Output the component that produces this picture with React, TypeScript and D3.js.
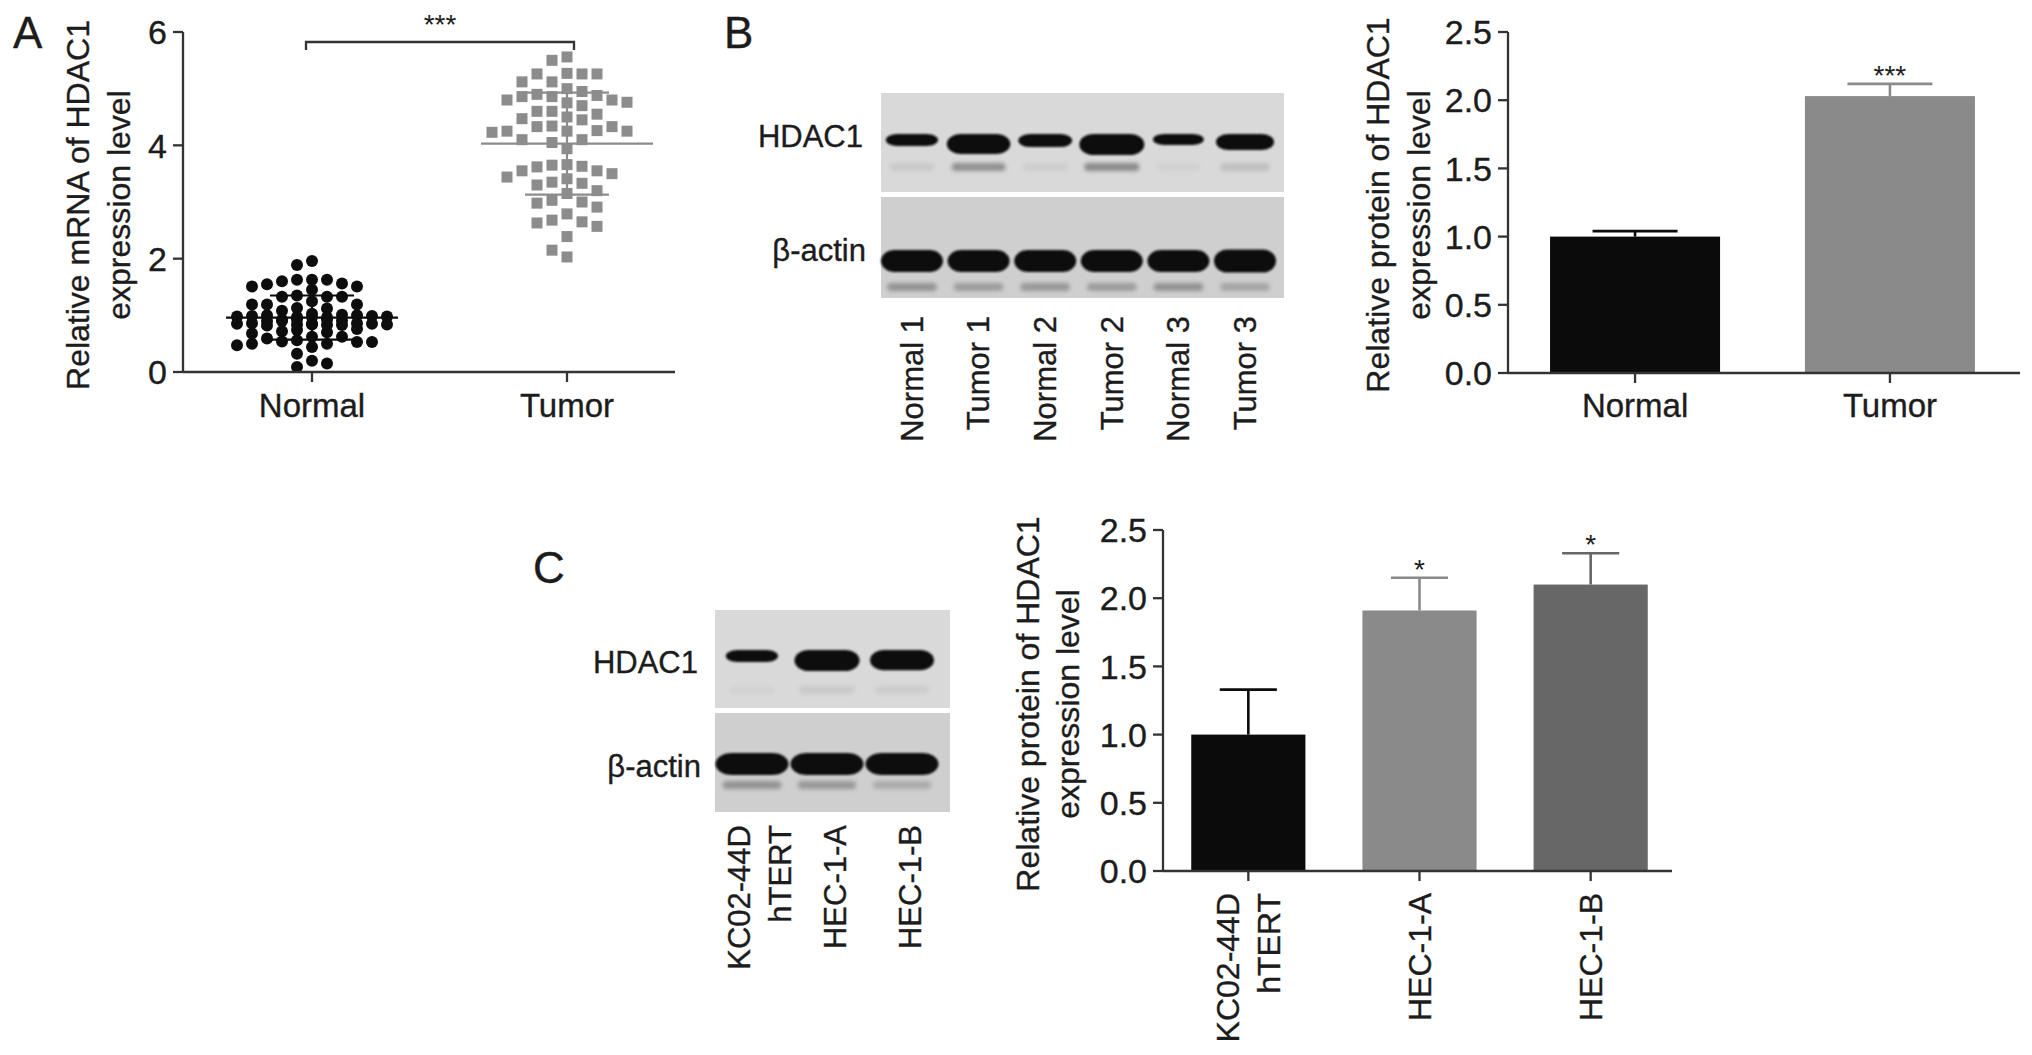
import React, { useRef, useEffect } from "react";
import * as d3 from "d3";

const W = 2032;
const H = 1055;
const FONT = "'Liberation Sans', Arial, Helvetica, sans-serif";
const INK = "#1c1c1c";
const AXIS = "#333";

// ---------- panel A: relative mRNA (scatter, mean +/- SD) ----------
const groupsA = ["Normal", "Tumor"];
const normalMrna = [
  1.96, 1.89,
  1.63, 1.63, 1.63, 1.6, 1.56, 1.55, 1.51, 1.51, 1.45,
  1.35, 1.33, 1.33, 1.33,
  1.25, 1.19, 1.19, 1.19,
  1.13, 1.12, 1.08, 1.03,
  1.01, 1.0, 1.0, 0.99, 0.99, 0.98, 0.98, 0.97, 0.97, 0.96,
  0.93, 0.92, 0.92, 0.91, 0.9, 0.9,
  0.86, 0.86, 0.85, 0.85, 0.85, 0.84, 0.84, 0.84, 0.83, 0.83, 0.82,
  0.76, 0.74, 0.72, 0.7, 0.68,
  0.62, 0.62, 0.59, 0.56, 0.54, 0.53, 0.53, 0.5,
  0.5, 0.47, 0.44,
  0.32, 0.2, 0.15, 0.09,
];
const tumorMrna = [
  5.56, 5.5, 5.27, 5.26, 5.26, 5.26, 5.12, 5.12, 5.0,
  4.95, 4.9, 4.88, 4.86, 4.86, 4.75,
  4.8, 4.8, 4.76, 4.7,
  4.6, 4.6, 4.55,
  4.5, 4.47, 4.45,
  4.34, 4.33, 4.33,
  4.26, 4.25, 4.25, 4.25, 4.23, 4.1, 4.1, 4.05,
  3.94,
  3.66, 3.65, 3.63, 3.62, 3.55,
  3.55, 3.5, 3.44, 3.41, 3.35, 3.33, 3.3,
  3.2, 3.15, 3.03, 3.0, 2.98, 2.91,
  2.79,
  2.68, 2.65, 2.63, 2.57,
  2.39, 2.15, 2.03,
];
const meanMrna = [0.96, 4.03];
const sdMrna = [0.39, 0.9];
const ticksA = [0, 2, 4, 6];

// ---------- panel B: tissue western blot + quantification ----------
const lanesB = ["Normal 1", "Tumor 1", "Normal 2", "Tumor 2", "Normal 3", "Tumor 3"];
const hdacBandB = [0.4, 0.93, 0.47, 1.0, 0.33, 0.67];
const hdacFaintB = [0.12, 0.55, 0.08, 0.6, 0.06, 0.2];
const actinBandB = [1, 1, 1, 1, 1, 1.05];
const actinFaintB = [0.5, 0.42, 0.45, 0.42, 0.5, 0.35];
const groupsB = ["Normal", "Tumor"];
const proteinB = [1.0, 2.03];
const errB = [0.04, 0.09];
const sigB = ["", "***"];

// ---------- panel C: cell lines ----------
const lanesC = ["KC02-44D\nhTERT", "HEC-1-A", "HEC-1-B"];
const hdacBandC = [0.4, 1.0, 0.95];
const hdacFaintC = [0.05, 0.12, 0.1];
const actinBandC = [1, 1, 1];
const actinFaintC = [0.5, 0.45, 0.3];
const proteinC = [1.0, 1.91, 2.1];
const errC = [0.33, 0.24, 0.23];
const sigC = ["", "*", "*"];

const ticksBar = [0, 0.5, 1, 1.5, 2, 2.5];
const barColorsB = ["#0b0b0b", "#8a8a8a"];
const barColorsC = ["#0b0b0b", "#8a8a8a", "#676767"];

type Sel = d3.Selection<any, unknown, null, undefined>;

// beeswarm on a 7.5px lattice, Prism-like
function swarm(values: number[], yPos: (v: number) => number, cx: number, minDy: number) {
  const step = 7.5, minDx = 12, maxK = 11;
  const offsets: number[] = [0];
  for (let k = 1; k <= maxK; k++) offsets.push(-k * step, k * step);
  const placed: { x: number; y: number }[] = [];
  [...values]
    .sort((a, b) => b - a)
    .forEach((v) => {
      const y = yPos(v);
      let best = 0;
      let bestHits = Infinity;
      for (const o of offsets) {
        const x = cx + o;
        let hits = 0;
        for (const p of placed)
          if (Math.abs(p.x - x) < minDx && Math.abs(p.y - y) < minDy) hits++;
        if (hits < bestHits) {
          bestHits = hits;
          best = o;
        }
        if (hits === 0) break;
      }
      placed.push({ x: cx + best, y });
    });
  return placed;
}

function text(g: Sel, x: number, y: number, s: string, size = 33, anchor = "middle") {
  return g
    .append("text")
    .attr("x", x)
    .attr("y", y)
    .attr("font-size", size)
    .attr("text-anchor", anchor)
    .attr("font-family", FONT)
    .attr("fill", INK)
    .attr("stroke", INK)
    .attr("stroke-width", 0.35)
    .text(s);
}

function rotText(g: Sel, x: number, y: number, s: string, anchor: string, size = 32) {
  return g
    .append("text")
    .attr("transform", `translate(${x},${y}) rotate(-90)`)
    .attr("text-anchor", anchor)
    .attr("dy", "0.35em")
    .attr("font-size", size)
    .attr("font-family", FONT)
    .attr("fill", INK)
    .attr("stroke", INK)
    .attr("stroke-width", 0.35)
    .text(s);
}

function line(g: Sel, x1: number, y1: number, x2: number, y2: number, color = AXIS, w = 2.3) {
  g.append("line")
    .attr("x1", x1)
    .attr("y1", y1)
    .attr("x2", x2)
    .attr("y2", y2)
    .attr("stroke", color)
    .attr("stroke-width", w);
}

function yAxis(g: Sel, y: d3.ScaleLinear<number, number>, x0: number, ticks: number[], fmt: (n: number) => string) {
  line(g, x0, y(ticks[0]) + 1, x0, y(ticks[ticks.length - 1]));
  ticks.forEach((t) => {
    line(g, x0 - 10, y(t), x0, y(t));
    text(g, x0 - 16, y(t), fmt(t), 34, "end").attr("dy", "0.36em");
  });
}

function yTitle(g: Sel, lines: string[], xs: number[], cy: number) {
  lines.forEach((l, i) => rotText(g, xs[i], cy, l, "middle", 32));
}

function drawBars(
  g: Sel,
  cats: string[],
  vals: number[],
  errs: number[],
  sig: string[],
  colors: string[],
  x0: number,
  x1: number,
  yRange: [number, number],
  xEnd: number
) {
  const x = d3.scaleBand().domain(cats).range([x0, x1]).paddingInner(0.333).paddingOuter(0.165);
  const y = d3.scaleLinear().domain([0, 2.5]).range(yRange);
  const bw = x.bandwidth();
  cats.forEach((c, i) => {
    const cx = (x(c) as number) + bw / 2;
    g.append("rect")
      .attr("x", x(c) as number)
      .attr("y", y(vals[i]))
      .attr("width", bw)
      .attr("height", y(0) - y(vals[i]))
      .attr("fill", colors[i]);
    const top = y(vals[i] + errs[i]);
    line(g, cx, y(vals[i]), cx, top, colors[i], 2.6);
    line(g, cx - bw / 4, top, cx + bw / 4, top, colors[i], 2.6);
    if (sig[i]) text(g, cx, top + 1, sig[i], 28).attr("stroke-width", 0);
  });
  yAxis(g, y, x0, ticksBar, d3.format(".1f"));
  line(g, x0, y(0), xEnd, y(0));
  cats.forEach((c) => {
    const cx = (x(c) as number) + bw / 2;
    line(g, cx, y(0), cx, y(0) + 10);
  });
  return { x, y };
}

type BlotCfg = {
  lanes: string[];
  laneRange: [number, number];
  box: [number, number];
  hdacPanel: [number, number];
  actinPanel: [number, number];
  hdacTop: number;
  hdac: number[];
  hdacFaint: number[];
  hdacFaintY: number;
  actinY: number;
  actin: number[];
  actinFaint: number[];
  actinFaintY: number;
  actinWidth: number;
  labelRight: number;
  labelY: [number, number];
  labelTop: number;
  labelShift: number;
};

function drawBlot(g: Sel, c: BlotCfg) {
  const lane = d3.scalePoint().domain(c.lanes).range(c.laneRange);
  const bgH = "#d9d9d9";
  const bgA = "#cfcfcf";
  g.append("rect")
    .attr("x", c.box[0])
    .attr("y", c.hdacPanel[0])
    .attr("width", c.box[1] - c.box[0])
    .attr("height", c.hdacPanel[1] - c.hdacPanel[0])
    .attr("fill", bgH);
  g.append("rect")
    .attr("x", c.box[0])
    .attr("y", c.actinPanel[0])
    .attr("width", c.box[1] - c.box[0])
    .attr("height", c.actinPanel[1] - c.actinPanel[0])
    .attr("fill", bgA);

  const hH = d3.scaleLinear().domain([0, 1]).range([6, 21]);
  const hW = d3.scaleLinear().domain([0, 1]).range([44, 65]);
  const faintH = d3.interpolateRgb(bgH, "#555");
  const faintA = d3.interpolateRgb(bgA, "#555");

  c.lanes.forEach((l, i) => {
    const cx = lane(l) as number;
    // faint lower bands
    const fw = hW(c.hdac[i]) * 0.85;
    g.append("rect")
      .attr("x", cx - fw / 2)
      .attr("y", c.hdacFaintY - 4)
      .attr("width", fw)
      .attr("height", 8)
      .attr("rx", 4)
      .attr("fill", faintH(c.hdacFaint[i]))
      .attr("filter", "url(#soft)");
    const aw = c.actinWidth * 0.8;
    g.append("rect")
      .attr("x", cx - aw / 2)
      .attr("y", c.actinFaintY - 4)
      .attr("width", aw)
      .attr("height", 8)
      .attr("rx", 4)
      .attr("fill", faintA(c.actinFaint[i]))
      .attr("filter", "url(#soft)");

    // HDAC1 band
    const h = hH(c.hdac[i]);
    const w = hW(c.hdac[i]);
    g.append("rect")
      .attr("x", cx - w / 2)
      .attr("y", c.hdacTop)
      .attr("width", w)
      .attr("height", h)
      .attr("rx", w * 0.22)
      .attr("ry", h / 2)
      .attr("fill", "#101010")
      .attr("filter", "url(#band)");

    // beta-actin band
    const ah = 22 * c.actin[i];
    const aw2 = c.actinWidth;
    g.append("rect")
      .attr("x", cx - aw2 / 2)
      .attr("y", c.actinY - ah / 2)
      .attr("width", aw2)
      .attr("height", ah)
      .attr("rx", aw2 * 0.22)
      .attr("ry", ah / 2)
      .attr("fill", "#101010")
      .attr("filter", "url(#band)");

    // lane label
    const parts = l.split("\n");
    parts.forEach((p, k) => {
      const dx = (k - (parts.length - 1) / 2) * 41;
      rotText(g, cx + c.labelShift + dx, c.labelTop, p, "end", 31);
    });
  });

  text(g, c.labelRight, c.labelY[0], "HDAC1", 31, "end").attr("dy", "0.36em");
  text(g, c.labelRight + 3, c.labelY[1], "β-actin", 31, "end").attr("dy", "0.36em");
}

export default function App() {
  const svgRef = useRef<SVGSVGElement>(null);

  useEffect(() => {
    const svg = d3.select(svgRef.current) as Sel;
    svg.selectAll("*").remove();

    const defs = svg.append("defs");
    defs
      .append("filter")
      .attr("id", "band")
      .attr("x", "-20%")
      .attr("y", "-60%")
      .attr("width", "140%")
      .attr("height", "220%")
      .append("feGaussianBlur")
      .attr("stdDeviation", 1.2);
    defs
      .append("filter")
      .attr("id", "soft")
      .attr("x", "-30%")
      .attr("y", "-150%")
      .attr("width", "160%")
      .attr("height", "400%")
      .append("feGaussianBlur")
      .attr("stdDeviation", 2.2);

    svg.append("rect").attr("width", W).attr("height", H).attr("fill", "#fff");

    // panel letters
    text(svg, 13, 48, "A", 44, "start");
    text(svg, 724, 48, "B", 44, "start");
    text(svg, 533, 583, "C", 44, "start");

    // ===== A: scatter =====
    const gA = svg.append("g");
    const xA = d3.scalePoint().domain(groupsA).range([312, 567]);
    const yA = d3.scaleLinear().domain([0, 6]).range([372, 32]);
    const colA = ["#0d0d0d", "#8c8c8c"];

    swarm(normalMrna, yA, xA("Normal") as number, 10).forEach((p) => {
      gA.append("circle").attr("cx", p.x).attr("cy", p.y).attr("r", 6).attr("fill", colA[0]);
    });
    swarm(tumorMrna, yA, xA("Tumor") as number, 14).forEach((p) => {
      gA.append("rect")
        .attr("x", p.x - 5.5)
        .attr("y", p.y - 5.5)
        .attr("width", 11)
        .attr("height", 11)
        .attr("fill", colA[1]);
    });

    groupsA.forEach((gname, i) => {
      const cx = xA(gname) as number;
      const m = meanMrna[i];
      const s = sdMrna[i];
      line(gA, cx - 86, yA(m), cx + 86, yA(m), colA[i], 2.2);
      line(gA, cx - 42, yA(m + s), cx + 42, yA(m + s), colA[i], 2.2);
      line(gA, cx - 42, yA(m - s), cx + 42, yA(m - s), colA[i], 2.2);
      line(gA, cx, yA(m + s), cx, yA(m - s), colA[i], 2.2);
    });

    yAxis(gA, yA, 183, ticksA, d3.format("d"));
    line(gA, 183, yA(0), 675, yA(0));
    groupsA.forEach((gname) => {
      const cx = xA(gname) as number;
      line(gA, cx, yA(0), cx, yA(0) + 10);
      text(gA, cx, 417, gname);
    });
    yTitle(gA, ["Relative mRNA of HDAC1", "expression level"], [78, 119], 205);

    // significance bracket
    const bx1 = (xA("Normal") as number) - 6;
    const bx2 = (xA("Tumor") as number) + 7;
    gA.append("path")
      .attr("d", `M${bx1},50 V42 H${bx2} V50`)
      .attr("fill", "none")
      .attr("stroke", AXIS)
      .attr("stroke-width", 2.3);
    text(gA, (bx1 + bx2) / 2, 34, "***", 28).attr("stroke-width", 0);

    // ===== B: blot =====
    const gBb = svg.append("g");
    drawBlot(gBb, {
      lanes: lanesB,
      laneRange: [912, 1245],
      box: [881, 1284],
      hdacPanel: [93, 192],
      actinPanel: [197, 298],
      hdacTop: 134,
      hdac: hdacBandB,
      hdacFaint: hdacFaintB,
      hdacFaintY: 167,
      actinY: 261,
      actin: actinBandB,
      actinFaint: actinFaintB,
      actinFaintY: 287,
      actinWidth: 62,
      labelRight: 863,
      labelY: [136, 250],
      labelTop: 316,
      labelShift: 0,
    });

    // ===== B: bars =====
    const gB = svg.append("g");
    const { x: xB } = drawBars(gB, groupsB, proteinB, errB, sigB, barColorsB, 1508, 2017, [373, 32], 2020);
    groupsB.forEach((gname) => {
      text(gB, (xB(gname) as number) + xB.bandwidth() / 2, 417, gname);
    });
    yTitle(gB, ["Relative protein of HDAC1", "expression level"], [1378, 1419], 205);

    // ===== C: blot =====
    const gCb = svg.append("g");
    drawBlot(gCb, {
      lanes: lanesC,
      laneRange: [752, 902],
      box: [715, 950],
      hdacPanel: [610, 708],
      actinPanel: [713, 812],
      hdacTop: 650,
      hdac: hdacBandC,
      hdacFaint: hdacFaintC,
      hdacFaintY: 690,
      actinY: 764,
      actin: actinBandC,
      actinFaint: actinFaintC,
      actinFaintY: 785,
      actinWidth: 73,
      labelRight: 698,
      labelY: [662, 766],
      labelTop: 825,
      labelShift: 8,
    });

    // ===== C: bars =====
    const gC = svg.append("g");
    const { x: xC } = drawBars(gC, lanesC, proteinC, errC, sigC, barColorsC, 1163, 1676, [871, 530], 1672);
    lanesC.forEach((l) => {
      const cx = (xC(l) as number) + xC.bandwidth() / 2;
      const parts = l.split("\n");
      parts.forEach((p, k) => {
        const dx = (k - (parts.length - 1) / 2) * 41;
        rotText(gC, cx + dx, 893, p, "end", 32);
      });
    });
    yTitle(gC, ["Relative protein of HDAC1", "expression level"], [1028, 1068], 704);
  }, []);

  return (
    <>
      <style>{"body{margin:0}"}</style>
      <svg ref={svgRef} width={W} height={H} style={{ display: "block", background: "#fff" }} />
    </>
  );
}
